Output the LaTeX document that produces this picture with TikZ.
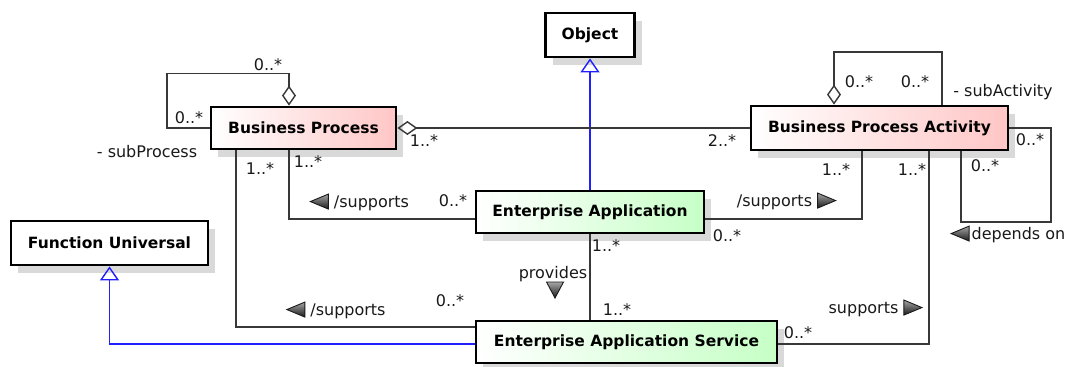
\documentclass[tikz,border=0pt]{standalone}
\usepackage{fontspec}
\setmainfont{DejaVu Sans}
\usepackage{tikz}
\usetikzlibrary{arrows.meta, shadows, calc}

\definecolor{linegray}{HTML}{383838}
\definecolor{pinkR}{HTML}{FFC6C6}
\definecolor{greenR}{HTML}{C6FFC6}
\definecolor{umlblue}{HTML}{2020FF}

% small direction marks
\newcommand\triL{\tikz[x=1pt,y=1pt,baseline=-5.5pt]\draw[line width=0.9pt, top color=black!35, bottom color=black!90] (0,0) -- (18,7.5) -- (18,-7.5) -- cycle;}
\newcommand\triR{\tikz[x=1pt,y=1pt,baseline=-5.5pt]\draw[line width=0.9pt, top color=black!35, bottom color=black!90] (18,0) -- (0,7.5) -- (0,-7.5) -- cycle;}
\newcommand\triD{\tikz[x=1pt,y=1pt,baseline=-5.5pt]\draw[line width=0.9pt, top color=black!35, bottom color=black!90] (0,-8) -- (-8.5,8) -- (8.5,8) -- cycle;}

\begin{document}
\begin{tikzpicture}[x=1pt, y=-1pt,
  box/.style={draw=black, line width=2.8pt, inner sep=0pt, fill=white,
    font=\fontsize{15.5}{18}\selectfont\bfseries,
    drop shadow={shadow xshift=7pt, shadow yshift=-8pt, fill=black!15, opacity=1}},
  pinkbox/.style={box, left color=white, right color=pinkR},
  greenbox/.style={box, left color=white, right color=greenR},
  assoc/.style={draw=linegray, line width=1.4pt},
  gen/.style={draw=umlblue, line width=1.4pt, -{Triangle[open, length=14pt, width=19pt]}},
  agg/.style={assoc, {Diamond[open, length=20pt, width=14pt]}-},
  mult/.style={inner sep=0pt, font=\fontsize{16}{18}\selectfont, text=black!90}]
\useasboundingbox (0,0) rectangle (1069,367);

% Classes
\node[box, minimum width=89pt, minimum height=44pt] (obj) at (590,35) {Object};
\node[pinkbox, minimum width=185pt, minimum height=42pt] (bp) at (303.5,128) {Business Process};
\node[pinkbox, minimum width=257pt, minimum height=44pt] (bpa) at (879.5,128) {Business Process Activity};
\node[box, minimum width=197pt, minimum height=44pt] (fu) at (109.5,243) {Function Universal};
\node[greenbox, minimum width=228pt, minimum height=42pt] (ea) at (590,212) {Enterprise Application};
\node[greenbox, minimum width=301pt, minimum height=42pt] (eas) at (626.5,342) {Enterprise Application Service};

% Generalisations
\draw[gen] (ea.north) -- (obj.south);
\draw[gen] ([yshift=-2pt]eas.west) -| (fu.south);

% Aggregations
\draw[agg] ([xshift=-14.5pt]bp.north) -- ++(0,-32) -| ([xshift=-42.5pt]bp.west) -- (bp.west);
\draw[agg] (bp.east) -- (bpa.west);
\draw[agg] ([xshift=-45.5pt]bpa.north) -- ++(0,-52.5) -| ([xshift=62.5pt]bpa.north);

% Associations
\draw[assoc] ([xshift=-14.5pt]bp.south) |- ([yshift=-7pt]ea.west);
\draw[assoc] ([xshift=-67.5pt]bp.south) |- ([yshift=15pt]eas.west);
\draw[assoc] ([yshift=-7pt]ea.east) -| ([xshift=-17.5pt]bpa.south);
\draw[assoc] ([yshift=-2pt]eas.east) -| ([xshift=49.5pt]bpa.south);
\draw[assoc] (ea.south) -- (ea.south |- eas.north);
\draw[assoc] (bpa.east) -- ++(41.5,0) -- ++(0,94) -| ([xshift=81.5pt]bpa.south);

% Multiplicities and roles
\node[mult] (m1) at (268,65) {0..*};
\node[mult] (m2) at (189,118) {0..*};
\node[mult] (r1) at (147,152) {- subProcess};
\node[mult] (m3) at (424,141) {1..*};
\node[mult] (m4) at (722,141) {2..*};
\node[mult] (m5) at (260,169) {1..*};
\node[mult] (m6) at (308,162) {1..*};
\node[mult] (m7) at (859,82) {0..*};
\node[mult] (m8) at (915,82) {0..*};
\node[mult] (r2) at (1003,92) {- subActivity};
\node[mult] (m9) at (1030,140) {0..*};
\node[mult] (m10) at (985,166) {0..*};
\node[mult] (m11) at (836,170) {1..*};
\node[mult] (m12) at (912,170) {1..*};
\node[mult] (m13) at (453,201) {0..*};
\node[mult] (m14) at (727,236) {0..*};
\node[mult] (m15) at (450,301) {0..*};
\node[mult] (m16) at (606,246) {1..*};
\node[mult] (m17) at (617,310) {1..*};
\node[mult] (m18) at (798,333) {0..*};

% Association names
\node[mult] (s1) at (359.5,202) {\triL\ /supports};
\node[mult] (s2) at (336,310) {\triL\ /supports};
\node[mult] (s3) at (786.5,201) {/supports\ \triR};
\node[mult] (s4) at (875.5,308) {supports\ \triR};
\node[mult] (s5) at (1008,234) {\triL\kern2pt depends on};
\node[mult] (s6) at (553,274) {provides};
\node[mult] (s7) at (555,290) {\triD};

\end{tikzpicture}
\end{document}
